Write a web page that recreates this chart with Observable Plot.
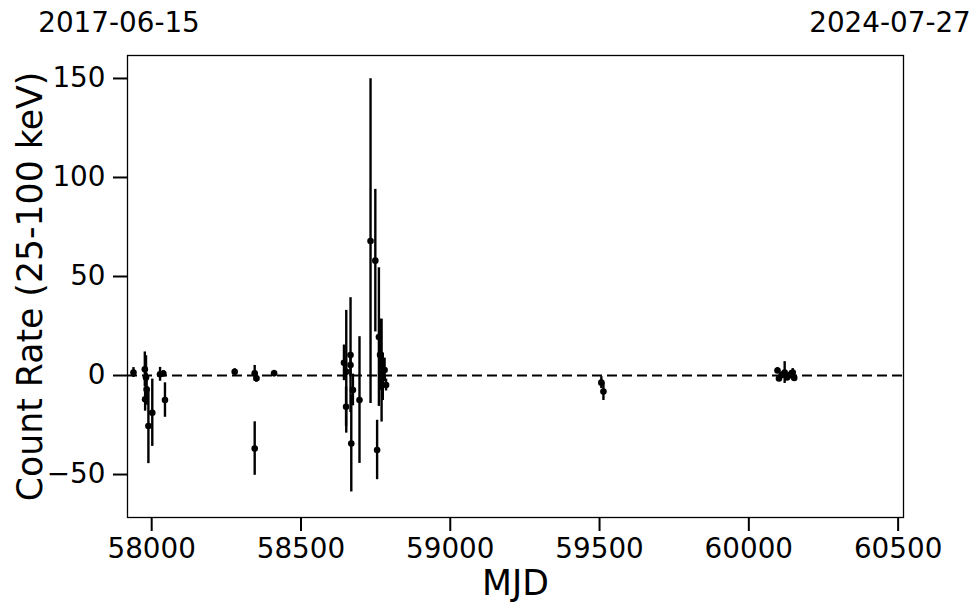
<!DOCTYPE html>
<html>
<head>
<meta charset="utf-8">
<script src="https://cdn.jsdelivr.net/npm/d3@7"></script>
<script src="https://cdn.jsdelivr.net/npm/@observablehq/plot@0.6"></script>
<style>
  html, body { margin: 0; padding: 0; background: #fff; }
  #chart svg { display: block; }
</style>
</head>
<body>
<div id="chart"></div>
<script>
// Observations (MJD), count rate (25-100 keV) and 1-sigma error
const mjd  = [57939, 57977, 57981, 57978, 57983, 57989, 58002, 58028, 58039, 58044.5,
              58278, 58345, 58351, 58345, 58410,
              58644, 58651.7, 58651, 58666, 58666, 58668.5, 58674, 58696,
              58733, 58749, 58755, 58761, 58765, 58770, 58774, 58780, 58785,
              59506, 59513,
              60096, 60101, 60110, 60120, 60128, 60138, 60147, 60152];
const rate = [1.5, 3.1, -1, -12, -7, -25.5, -18.8, 0.6, 1, -12.4,
              1.9, 1.1, -1.4, -36.9, 1.1,
              6.4, 1.9, -15.8, 10.3, 5.3, -34.3, -7.3, -12.4,
              67.9, 58, -37.6, 19.4, 10.4, 2.5, -0.6, 2.8, -4.8,
              -3.6, -8.1,
              2.5, -1.5, 0.3, 1.5, -1, 0.3, 1.5, -1.2];
const err  = [2.5, 8.8, 11, 6, 8, 19, 17, 3.5, 1.5, 8.7,
              1.5, 4, 2, 13.5, 1.5,
              9, 31, 10, 29, 6, 24.5, 8, 32,
              82, 36, 15, 35, 18, 26, 12, 6, 3,
              3, 4.5,
              1.5, 1.5, 1.5, 5.5, 1.5, 2, 2, 1.5];

const xTicks = [58000, 58500, 59000, 59500, 60000, 60500];
const yTicks = [-50, 0, 50, 100, 150];
const dateStart = "2017-06-15";
const dateEnd = "2024-07-27";
const xLabel = "MJD";
const yLabel = "Count Rate (25-100 keV)";

const data = mjd.map((m, i) => ({mjd: m, rate: rate[i], lo: rate[i] - err[i], hi: rate[i] + err[i]}));

const fmtY = d => (d < 0 ? "\u2212" : "") + Math.abs(d);

const chart = Plot.plot({
  width: 980,
  height: 613,
  marginLeft: 127,
  marginRight: 77,
  marginTop: 55,
  marginBottom: 96,
  style: {fontFamily: "DejaVu Sans", fontSize: "27.8px", color: "#000", background: "#fff"},
  x: {domain: [57919, 60518]},
  y: {domain: [-71.7, 161.6]},
  marks: [
    Plot.ruleY([0], {stroke: "#000", strokeWidth: 2.2, strokeDasharray: "10,5"}),
    Plot.ruleX(data, {x: "mjd", y1: "lo", y2: "hi", stroke: "#000", strokeWidth: 2.4}),
    Plot.dot(data, {x: "mjd", y: "rate", r: 3.3, fill: "#000", stroke: "none"}),
    Plot.frame({stroke: "#000", strokeWidth: 1.3}),
    Plot.axisX(xTicks, {anchor: "bottom", tickSize: 14, tickPadding: 7, strokeWidth: 2, label: null, tickFormat: d => String(d)}),
    Plot.axisY(yTicks, {anchor: "left", tickSize: 14, tickPadding: 8, strokeWidth: 2, label: null, tickFormat: fmtY}),
    Plot.text([xLabel], {frameAnchor: "bottom", dy: 66, text: d => d, fontSize: 34.7, lineAnchor: "middle"}),
    Plot.text([yLabel], {frameAnchor: "left", dx: -97, rotate: -90, text: d => d, fontSize: 34.7, lineAnchor: "middle", textAnchor: "middle"}),
    Plot.text([dateStart], {frameAnchor: "top-left", dx: -8.5, dy: -32, text: d => d, fontSize: 27.8, textAnchor: "middle", lineAnchor: "middle"}),
    Plot.text([dateEnd], {frameAnchor: "top-right", dx: -13.5, dy: -32, text: d => d, fontSize: 27.8, textAnchor: "middle", lineAnchor: "middle"})
  ]
});
document.getElementById("chart").appendChild(chart);
</script>
</body>
</html>
